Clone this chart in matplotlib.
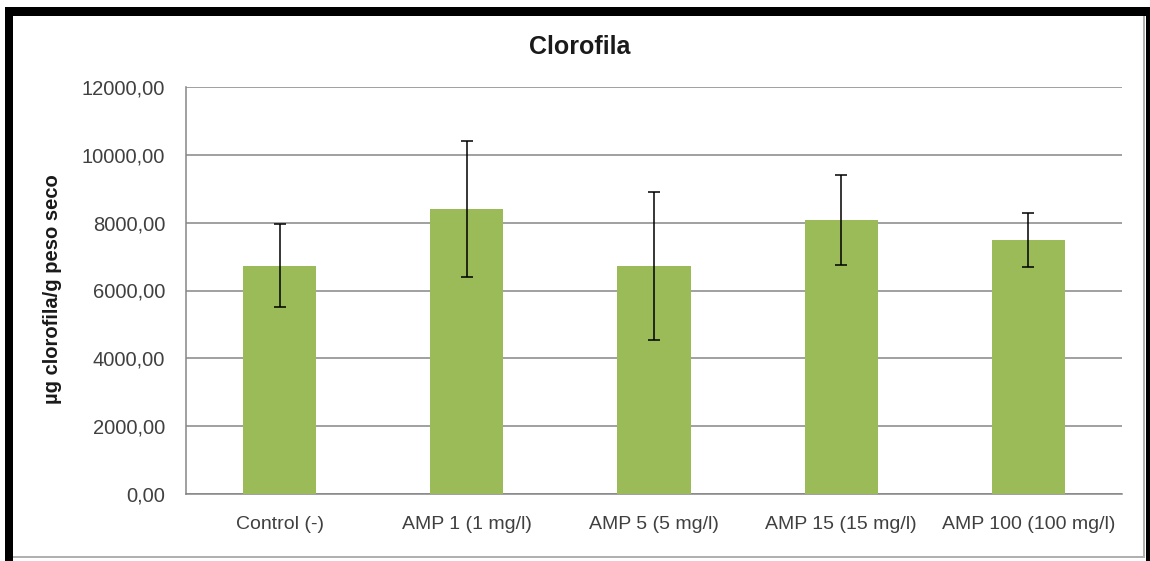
import matplotlib.pyplot as plt
import matplotlib.patches as patches
from matplotlib.ticker import FuncFormatter

plt.rcParams['font.family'] = ['Liberation Sans', 'DejaVu Sans']

# datos
categorias = ['Control (-)', 'AMP 1 (1 mg/l)', 'AMP 5 (5 mg/l)',
              'AMP 15 (15 mg/l)', 'AMP 100 (100 mg/l)']
clorofila = [6730, 8410, 6730, 8080, 7490]
error = [1230, 2010, 2180, 1340, 805]
yticks = [0, 2000, 4000, 6000, 8000, 10000, 12000]

fig = plt.figure(figsize=(11.5, 5.61), dpi=100)
W, H = 1150, 561

# marco negro del recorte
def px_rect(x0, y0, x1, y1, color):
    fig.patches.append(patches.Rectangle((x0 / W, 1 - y1 / H), (x1 - x0) / W, (y1 - y0) / H,
                                         transform=fig.transFigure, facecolor=color,
                                         edgecolor='none', zorder=10))

px_rect(5, 7, 13, 561, 'black')
px_rect(5, 7, 1150, 16, 'black')
px_rect(1146, 7, 1150, 561, 'black')
px_rect(1143, 16, 1145, 558, '#b0b0b0')
px_rect(13, 556, 1145, 558, '#b0b0b0')

ax = fig.add_axes([186 / W, 1 - 494 / H, (1122 - 186) / W, (494 - 87) / H])
x = range(len(categorias))
ax.bar(x, clorofila, width=0.39, color='#9BBB59', zorder=3,
       yerr=error, error_kw=dict(ecolor='black', elinewidth=1.1, capsize=4, capthick=1.1, zorder=4))

ax.set_ylim(0, 12000)
ax.set_xlim(-0.5, len(categorias) - 0.5)
ax.set_yticks(yticks)
ax.yaxis.set_major_formatter(FuncFormatter(lambda v, p: f'{v:.2f}'.replace('.', ',')))
ax.set_xticks(list(x))
ax.set_xticklabels(categorias)
ax.tick_params(axis='both', length=0, colors='#404040')
ax.tick_params(axis='y', pad=15, labelsize=14.5)
ax.tick_params(axis='x', pad=16, labelsize=14)
ax.grid(axis='y', color='#868686', linewidth=1.1, zorder=0)
for s in ['top', 'right']:
    ax.spines[s].set_visible(False)
ax.spines['left'].set_color('#868686')
ax.spines['bottom'].set_color('#868686')
ax.spines['left'].set_linewidth(1.1)
ax.spines['bottom'].set_linewidth(1.1)

fig.text(53 / W, 1 - 289 / H, 'µg clorofila/g peso seco', rotation=90, ha='center', va='center',
         fontsize=14.5, fontweight='bold', color='#1a1a1a')
fig.text(580 / W, 1 - 47 / H, 'Clorofila', ha='center', va='center',
         fontsize=18, fontweight='bold', color='#1a1a1a')

fig.savefig('out.png', dpi=100)
